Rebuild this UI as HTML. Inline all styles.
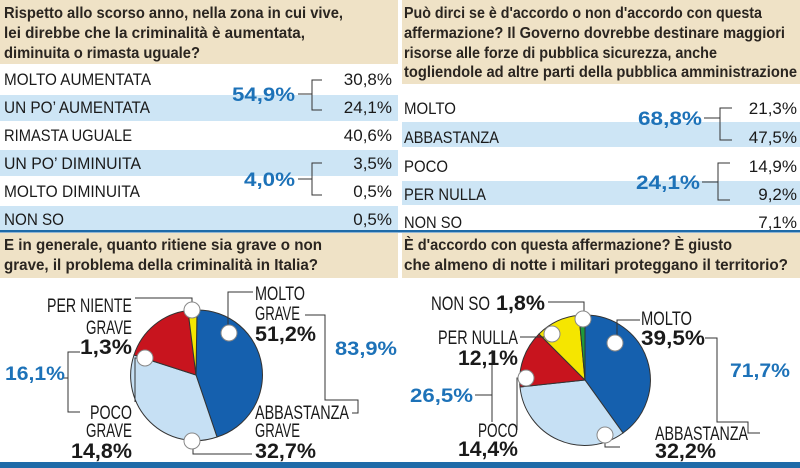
<!DOCTYPE html>
<html><head><meta charset="utf-8"><style>
html,body{margin:0;padding:0;background:#fff;}
svg{display:block;}
text{font-family:"Liberation Sans Narrow","Liberation Sans",sans-serif;}
.h{font-weight:bold;font-size:16px;fill:#2a2520;}
.r{font-size:17px;fill:#1a1a1a;}
.v{font-size:17px;fill:#1a1a1a;text-anchor:end;}
.t{font-weight:bold;font-size:19px;fill:#1d72b8;}
.p{font-size:19px;fill:#1a1a1a;}
.pb{font-size:21px;font-weight:bold;fill:#1a1a1a;}
.l{stroke:#333;stroke-width:1;fill:none;}
</style></head><body>
<svg width="800" height="468" viewBox="0 0 800 468" xmlns="http://www.w3.org/2000/svg">
<rect width="800" height="468" fill="#fff"/>
<!-- top left -->
<rect x="0" y="0" width="398" height="64" fill="#efe2c6"/>
<text class="h" x="4" y="18" textLength="339" lengthAdjust="spacingAndGlyphs">Rispetto allo scorso anno, nella zona in cui vive,</text>
<text class="h" x="4" y="38" textLength="301" lengthAdjust="spacingAndGlyphs">lei direbbe che la criminalità è aumentata,</text>
<text class="h" x="4" y="58" textLength="196" lengthAdjust="spacingAndGlyphs">diminuita o rimasta uguale?</text>
<rect x="0" y="95" width="398" height="26" fill="#cde5f5"/>
<rect x="0" y="150" width="398" height="26" fill="#cde5f5"/>
<rect x="0" y="206" width="398" height="24" fill="#cde5f5"/>
<text class="r" x="4" y="85" textLength="147" lengthAdjust="spacingAndGlyphs">MOLTO AUMENTATA</text>
<text class="r" x="4" y="113" textLength="146" lengthAdjust="spacingAndGlyphs">UN PO’ AUMENTATA</text>
<text class="r" x="4" y="141" textLength="128" lengthAdjust="spacingAndGlyphs">RIMASTA UGUALE</text>
<text class="r" x="4" y="169" textLength="137" lengthAdjust="spacingAndGlyphs">UN PO’ DIMINUITA</text>
<text class="r" x="4" y="197" textLength="136" lengthAdjust="spacingAndGlyphs">MOLTO DIMINUITA</text>
<text class="r" x="4" y="225" textLength="60" lengthAdjust="spacingAndGlyphs">NON SO</text>
<text class="v" x="392" y="85">30,8%</text>
<text class="v" x="392" y="113">24,1%</text>
<text class="v" x="392" y="141">40,6%</text>
<text class="v" x="392" y="169">3,5%</text>
<text class="v" x="392" y="197">0,5%</text>
<text class="v" x="392" y="225">0,5%</text>
<text class="t" x="232" y="101" textLength="63" lengthAdjust="spacingAndGlyphs">54,9%</text>
<text class="t" x="244" y="186" textLength="51" lengthAdjust="spacingAndGlyphs">4,0%</text>
<path class="l" d="M298 94H312M322 80H312V110H322M298 179H312M322 163H312V195H322"/>
<!-- top right -->
<rect x="402" y="0" width="398" height="84" fill="#efe2c6"/>
<text class="h" x="404" y="18" textLength="358" lengthAdjust="spacingAndGlyphs">Può dirci se è d'accordo o non d'accordo con questa</text>
<text class="h" x="404" y="38" textLength="381" lengthAdjust="spacingAndGlyphs">affermazione? Il Governo dovrebbe destinare maggiori</text>
<text class="h" x="404" y="58" textLength="313" lengthAdjust="spacingAndGlyphs">risorse alle forze di pubblica sicurezza, anche</text>
<text class="h" x="404" y="77" textLength="393" lengthAdjust="spacingAndGlyphs">togliendole ad altre parti della pubblica amministrazione</text>
<rect x="402" y="122" width="398" height="25" fill="#cde5f5"/>
<rect x="402" y="181" width="398" height="24" fill="#cde5f5"/>
<text class="r" x="404" y="114" textLength="52" lengthAdjust="spacingAndGlyphs">MOLTO</text>
<text class="r" x="404" y="143" textLength="95" lengthAdjust="spacingAndGlyphs">ABBASTANZA</text>
<text class="r" x="404" y="172" textLength="44" lengthAdjust="spacingAndGlyphs">POCO</text>
<text class="r" x="404" y="200" textLength="82" lengthAdjust="spacingAndGlyphs">PER NULLA</text>
<text class="r" x="404" y="228" textLength="58" lengthAdjust="spacingAndGlyphs">NON SO</text>
<text class="v" x="797" y="114">21,3%</text>
<text class="v" x="797" y="143">47,5%</text>
<text class="v" x="797" y="172">14,9%</text>
<text class="v" x="797" y="200">9,2%</text>
<text class="v" x="797" y="228">7,1%</text>
<text class="t" x="638" y="125" textLength="64" lengthAdjust="spacingAndGlyphs">68,8%</text>
<text class="t" x="636" y="189" textLength="64" lengthAdjust="spacingAndGlyphs">24,1%</text>
<path class="l" d="M704 118H720M732 108H720V140H732M702 182H718M730 163H718V200H730"/>
<!-- bottom headers -->
<rect x="0" y="233" width="398" height="45" fill="#efe2c6"/>
<rect x="402" y="233" width="398" height="45" fill="#efe2c6"/>
<text class="h" x="4" y="250" textLength="318" lengthAdjust="spacingAndGlyphs">E in generale, quanto ritiene sia grave o non</text>
<text class="h" x="4" y="270" textLength="314" lengthAdjust="spacingAndGlyphs">grave, il problema della criminalità in Italia?</text>
<text class="h" x="404" y="250" textLength="328" lengthAdjust="spacingAndGlyphs">È d'accordo con questa affermazione? È giusto</text>
<text class="h" x="404" y="270" textLength="384" lengthAdjust="spacingAndGlyphs">che almeno di notte i militari proteggano il territorio?</text>
<!-- pie 1 -->
<g stroke="#333" stroke-width="1">
<path d="M196 375L197 310A65 65 0 0 1 217 437Z" fill="#1560ae"/>
<path d="M196 375L217 437A65 65 0 0 1 134 355Z" fill="#c6e0f4"/>
<path d="M196 375L134 355A65 65 0 0 1 188 310.5Z" fill="#c8141e"/>
<path d="M196 375L188 310.5A65 65 0 0 1 197 310Z" fill="#f5e600"/>
</g>
<path class="l" d="M135 298H192V308M253 292H228V330M305 315H325V400H358V413H352M80 352H68V412H80M68 378H62M140 358H135V402M193 440V454H252"/>
<g fill="#fff" stroke="#888" stroke-width="1">
<circle cx="192" cy="310" r="8"/><circle cx="229" cy="333" r="8"/><circle cx="145" cy="358" r="8"/><circle cx="192" cy="441" r="8"/>
</g>
<text class="p" x="47" y="312" textLength="85" lengthAdjust="spacingAndGlyphs">PER NIENTE</text>
<text class="p" x="86" y="334" textLength="46" lengthAdjust="spacingAndGlyphs">GRAVE</text>
<text class="pb" x="80" y="354" textLength="52" lengthAdjust="spacingAndGlyphs">1,3%</text>
<text class="p" x="255" y="300" textLength="50" lengthAdjust="spacingAndGlyphs">MOLTO</text>
<text class="p" x="255" y="320" textLength="45" lengthAdjust="spacingAndGlyphs">GRAVE</text>
<text class="pb" x="255" y="341" textLength="61" lengthAdjust="spacingAndGlyphs">51,2%</text>
<text class="t" x="335" y="355" textLength="62" lengthAdjust="spacingAndGlyphs">83,9%</text>
<text class="t" x="5" y="380" textLength="60" lengthAdjust="spacingAndGlyphs">16,1%</text>
<text class="p" x="90" y="419" textLength="42" lengthAdjust="spacingAndGlyphs">POCO</text>
<text class="p" x="86" y="437" textLength="46" lengthAdjust="spacingAndGlyphs">GRAVE</text>
<text class="pb" x="71" y="458" textLength="61" lengthAdjust="spacingAndGlyphs">14,8%</text>
<text class="p" x="255" y="419" textLength="94" lengthAdjust="spacingAndGlyphs">ABBASTANZA</text>
<text class="p" x="255" y="437" textLength="45" lengthAdjust="spacingAndGlyphs">GRAVE</text>
<text class="pb" x="255" y="458" textLength="61" lengthAdjust="spacingAndGlyphs">32,7%</text>
<!-- pie 2 -->
<g stroke="#333" stroke-width="1">
<path d="M585 380L585 315A65 65 0 0 1 623 433Z" fill="#1560ae"/>
<path d="M585 380L623 433A65 65 0 0 1 520 387Z" fill="#c6e0f4"/>
<path d="M585 380L520 387A65 65 0 0 1 539 334Z" fill="#c8141e"/>
<path d="M585 380L539 334A65 65 0 0 1 579 315.3Z" fill="#f5e600"/>
<path d="M585 380L579 315.3A65 65 0 0 1 585 315Z" fill="#1e9a3c"/>
</g>
<path class="l" d="M548 302H584V312M640 320H617V336M705 338H717V422H748V433H760M520 337H545M492 350V422M475 395H492M520 378H517V430M605 443V447H620"/>
<g fill="#fff" stroke="#888" stroke-width="1">
<circle cx="583" cy="319" r="8"/><circle cx="615" cy="343" r="8"/><circle cx="552" cy="334" r="8"/><circle cx="526" cy="378" r="8"/><circle cx="605" cy="435" r="8"/>
</g>
<text class="p" x="431" y="310" textLength="59" lengthAdjust="spacingAndGlyphs">NON SO</text>
<text class="pb" x="496" y="310" textLength="49" lengthAdjust="spacingAndGlyphs">1,8%</text>
<text class="p" x="438" y="344" textLength="80" lengthAdjust="spacingAndGlyphs">PER NULLA</text>
<text class="pb" x="458" y="365" textLength="60" lengthAdjust="spacingAndGlyphs">12,1%</text>
<text class="p" x="641" y="325" textLength="51" lengthAdjust="spacingAndGlyphs">MOLTO</text>
<text class="pb" x="641" y="345" textLength="64" lengthAdjust="spacingAndGlyphs">39,5%</text>
<text class="t" x="730" y="377" textLength="60" lengthAdjust="spacingAndGlyphs">71,7%</text>
<text class="t" x="410" y="402" textLength="63" lengthAdjust="spacingAndGlyphs">26,5%</text>
<text class="p" x="478" y="437" textLength="40" lengthAdjust="spacingAndGlyphs">POCO</text>
<text class="pb" x="458" y="456" textLength="60" lengthAdjust="spacingAndGlyphs">14,4%</text>
<text class="p" x="655" y="440" textLength="93" lengthAdjust="spacingAndGlyphs">ABBASTANZA</text>
<text class="pb" x="655" y="458" textLength="61" lengthAdjust="spacingAndGlyphs">32,2%</text>
<rect x="0" y="462" width="800" height="6" fill="#1e6aa8"/>
<rect x="398" y="0" width="4" height="462" fill="#fff"/>
<rect x="0" y="230" width="800" height="2.5" fill="#1e6aa8"/>
</svg>
</body></html>
